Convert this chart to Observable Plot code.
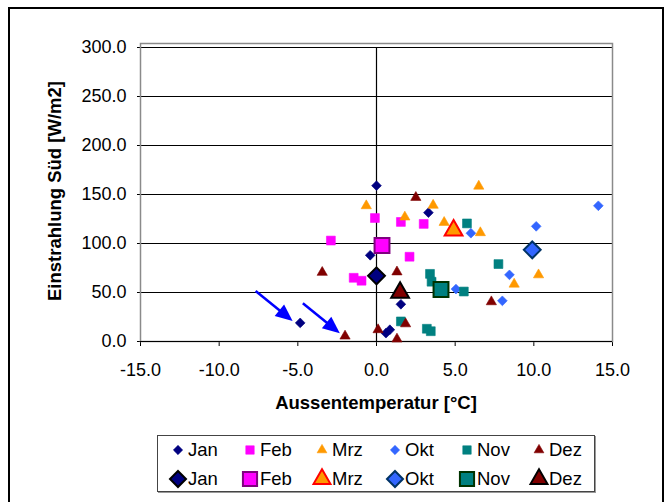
<!DOCTYPE html>
<html>
<head>
<meta charset="utf-8">
<script src="https://cdn.jsdelivr.net/npm/d3@7"></script>
<script src="https://cdn.jsdelivr.net/npm/@observablehq/plot@0.6"></script>
<style>
  html, body { margin:0; padding:0; background:#fff; }
  #wrap { position:relative; width:671px; height:502px; overflow:hidden; font-family:"Liberation Sans", Arial, sans-serif; }
  #outer { position:absolute; left:8px; top:7px; width:656px; height:520px; border:2px solid #000; box-sizing:border-box; }
  #chart { position:absolute; left:0; top:0; }
  #legend { position:absolute; left:157px; top:435px; width:438px; height:57px; border:1px solid #444; box-shadow:1px 1px 0 #999; box-sizing:border-box; background:#fff; }
  .li { position:absolute; height:20px; display:flex; align-items:center; font-size:18.5px; color:#000; }
  .li svg { margin-right:0px; }
</style>
</head>
<body>
<div id="wrap">
  <div id="outer"></div>
  <div id="chart"></div>
  <div id="legend"></div>
</div>
<script>
// ---- data ----
const monthNames = ["Jan", "Feb", "Mrz", "Okt", "Nov", "Dez"];
const janX = [0.0, 3.3, -0.4, 1.55, 0.6, 0.85, -4.85];
const janY = [159, 131.5, 88, 38, 8.5, 12, 19];
const febX = [-2.9, -0.1, -1.45, -0.95, 1.55, 3.0, 2.1];
const febY = [103, 126, 65, 62, 122, 120, 86.5];
const mrzX = [-0.65, 3.6, 1.8, 4.3, 6.5, 6.6, 10.3, 8.75];
const mrzY = [138.5, 139, 127, 121.5, 158.5, 111, 68, 58.5];
const oktX = [14.1, 10.15, 6.0, 8.45, 8.0, 5.05];
const oktY = [138.5, 117.5, 110.5, 68, 41.5, 53.5];
const novX = [5.75, 7.75, 3.4, 3.5, 5.55, 1.55, 3.2, 3.45];
const novY = [120.5, 79, 69, 61, 51, 20.5, 13, 10.5];
const dezX = [-3.45, -2.0, 0.1, 2.5, 1.3, 1.85, 1.3, 7.3];
const dezY = [70.5, 5.5, 12, 147, 71, 18, 2.5, 40.5];
// monthly means (large markers)
const meanX = [0.0, 0.35, 4.9, 9.9, 4.1, 1.5];
const meanY = [67, 98, 113.5, 93.5, 53, 50];
// arrows (annotation): start and tip in data units
const arrowX1 = [-7.65, -4.65];
const arrowY1 = [51, 38.5];
const arrowX2 = [-5.3, -2.3];
const arrowY2 = [20.5, 8];
const xTicks = [-15, -10, -5, 0, 5, 10, 15];
const yTicks = [0, 50, 100, 150, 200, 250, 300];
const xTitle = "Aussentemperatur [°C]";
const yTitle = "Einstrahlung Süd [W/m2]";

// ---- styles ----
const colors = ["#000080", "#FF00FF", "#FF9900", "#3366FF", "#008080", "#800000"];
const bigStroke = ["#000000", "#800080", "#FF0000", "#003366", "#003300", "#000000"];
const symbols = ["diamond2", "square", "triangle", "diamond2", "square", "triangle"];
const smallR = [4.4, 5.0, 3.8, 4.4, 5.0, 3.8];
const bigR = [7.6, 8.4, 6.6, 7.6, 8.4, 6.6];

const seriesX = [janX, febX, mrzX, oktX, novX, dezX];
const seriesY = [janY, febY, mrzY, oktY, novY, dezY];
const series = seriesX.map((xs, k) => xs.map((x, i) => ({x, y: seriesY[k][i]})));
const means = meanX.map((x, k) => ({x, y: meanY[k], k}));

const fmt = d => d.toFixed(1);

const marks = [
  Plot.ruleY(yTicks.filter(d => d > 0), {stroke: "#000", strokeWidth: 1}),
  Plot.frame({stroke: "#8a8a8a", strokeWidth: 1.5, insetTop: -4}),
  Plot.ruleX([0], {stroke: "#000", strokeWidth: 1.2}),
  Plot.ruleY([0], {stroke: "#000", strokeWidth: 1.2}),
];
series.forEach((data, k) => {
  marks.push(Plot.dot(data, {x: "x", y: "y", symbol: symbols[k], r: smallR[k], fill: colors[k], stroke: colors[k], strokeWidth: 0.6}));
});
means.forEach((d) => {
  const k = d.k;
  marks.push(Plot.dot([d], {x: "x", y: "y", symbol: symbols[k], r: bigR[k], fill: colors[k], stroke: bigStroke[k], strokeWidth: 2}));
});
// arrow shafts
const arrows = arrowX1.map((x1, i) => ({x1, y1: arrowY1[i], x2: arrowX2[i], y2: arrowY2[i]}));

const fig = Plot.plot({
  width: 671,
  height: 430,
  marginLeft: 140,
  marginRight: 59,
  marginTop: 47,
  marginBottom: 89,
  style: {fontFamily: "'Liberation Sans', Arial, sans-serif", fontSize: "18px", color: "#000", background: "transparent", overflow: "visible"},
  x: {domain: [-15, 15], ticks: xTicks, tickFormat: fmt, tickSize: 5, tickPadding: 17, label: null},
  y: {domain: [0, 300], ticks: yTicks, tickFormat: fmt, tickSize: 3, tickPadding: 11, label: null},
  marks
});
document.getElementById("chart").appendChild(fig);

const svg = d3.select(fig);
const sx = fig.scale("x"), sy = fig.scale("y");
// arrows drawn through the plot's scales
const ag = svg.append("g");
arrows.forEach(a => {
  const X1 = sx.apply(a.x1), Y1 = sy.apply(a.y1), X2 = sx.apply(a.x2), Y2 = sy.apply(a.y2);
  const dx = X2 - X1, dy = Y2 - Y1, L = Math.hypot(dx, dy);
  const ux = dx / L, uy = dy / L;
  const hl = 17, hw = 7.5;
  const bx = X2 - ux * hl, by = Y2 - uy * hl;
  ag.append("line").attr("x1", X1).attr("y1", Y1).attr("x2", bx + ux * 2).attr("y2", by + uy * 2)
    .attr("stroke", "#0000FF").attr("stroke-width", 2.5);
  ag.append("polygon")
    .attr("points", [[X2, Y2], [bx - uy * hw, by + ux * hw], [bx + uy * hw, by - ux * hw]].map(p => p.join(",")).join(" "))
    .attr("fill", "#0000FF");
});
// axis titles
svg.append("text").attr("x", 376).attr("y", 402).attr("text-anchor", "middle").attr("dominant-baseline", "central")
  .attr("font-weight", "bold").attr("font-size", 18.5).attr("fill", "#000").text(xTitle);
svg.append("text").attr("transform", "translate(54,191) rotate(-90)").attr("text-anchor", "middle").attr("dominant-baseline", "central")
  .attr("font-weight", "bold").attr("font-size", 18.5).attr("fill", "#000").text(yTitle);

// legend
const legend = document.getElementById("legend");
const colX = [178, 250, 322, 395, 467, 539];
const rowY = [450, 479];
const symMap = {diamond2: d3.symbolDiamond2, square: d3.symbolSquare, triangle: d3.symbolTriangle};
[0, 1].forEach(row => {
  monthNames.forEach((name, k) => {
    const r = row === 0 ? smallR[k] * 0.95 : bigR[k] * 0.95;
    const item = document.createElement("div");
    item.className = "li";
    item.style.left = (colX[k] - 157 - 1 - 10) + "px";
    item.style.top = (rowY[row] - 435 - 1 - 10) + "px";
    const s = d3.create("svg").attr("width", 20).attr("height", 20).style("overflow", "visible");
    s.append("path").attr("transform", "translate(10,10)")
      .attr("d", d3.symbol(symMap[symbols[k]], Math.PI * r * r)())
      .attr("fill", colors[k])
      .attr("stroke", row === 0 ? colors[k] : bigStroke[k])
      .attr("stroke-width", row === 0 ? 0.6 : 2);
    item.appendChild(s.node());
    const t = document.createElement("span");
    t.textContent = name;
    t.style.marginLeft = "0px";
    item.appendChild(t);
    legend.appendChild(item);
  });
});
</script>
</body>
</html>
